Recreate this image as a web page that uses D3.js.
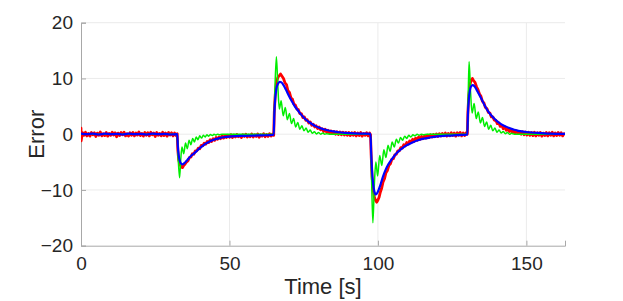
<!DOCTYPE html>
<html><head><meta charset="utf-8">
<script src="https://cdn.jsdelivr.net/npm/d3@7"></script>
<style>
body{margin:0;background:#fff}
svg{display:block}
text{font-family:"Liberation Sans",Arial,Helvetica,sans-serif;fill:#262626}
</style>
</head><body>
<svg id="c" width="623" height="301"></svg>
<script>
const xTicks=[0,50,100,150];
const yTicks=[-20,-10,0,10,20];
const xDomain=[0,163];
const yDomain=[-20,20];
const xLabel="Time [s]";
const yLabel="Error";

// red: noisy measured error
const red=[[0,1.1],[0.05,-1.2],[0.5,0.3],[1,-0.2],[1.5,0.35],[2,-0.3],[2.5,0.15],[3,-0.35],[3.5,0.3],[4,-0.1],[4.5,0.25],[5,-0.4],[5.5,0.2],[6,-0.2],[6.5,0.4],[7,-0.3],[7.5,0.1],[8,-0.25],[8.5,0.3],[9,-0.35],[9.5,0.15],[10,-0.2],[10.5,0.35],[11,-0.15],[11.5,0.25],[12,-0.45],[12.5,0.2],[13,-0.25],[13.5,0.3],[14,-0.1],[14.5,0.35],[15,-0.3],[15.5,0.1],[16,-0.35],[16.5,0.25],[17,-0.2],[17.5,0.3],[18,-0.3],[18.5,0.2],[19,-0.15],[19.5,0.4],[20,-0.25],[20.5,0.15],[21,-0.35],[21.5,0.3],[22,-0.2],[22.5,0.25],[23,-0.3],[23.5,0.35],[24,-0.1],[24.5,0.2],[25,-0.4],[25.5,0.3],[26,-0.2],[26.5,0.15],[27,-0.3],[27.5,0.35],[28,-0.25],[28.5,0.2],[29,-0.35],[29.5,0.3],[30,-0.15],[30.5,0.25],[31,-0.3],[31.5,0.2],[32,-0.25],[32.4,0.1],
[32.6,-2.8],[32.9,-4.6],[33.3,-5.4],[33.8,-5.9],[34.2,-6.0],[34.6,-5.6],[35.0,-5.4],[35.5,-5.0],[36,-4.8],[36.5,-4.2],[37,-4.1],[37.5,-3.5],[38,-3.6],[38.5,-3.0],[39,-3.0],[39.5,-2.5],[40,-2.6],[40.5,-2.0],[41,-2.1],[41.5,-1.6],[42,-1.8],[42.5,-1.3],[43,-1.5],[43.5,-1.0],[44,-1.3],[44.5,-0.8],[45,-1.1],[45.5,-0.6],[46,-0.9],[46.5,-0.5],[47,-0.8],[47.5,-0.3],[48,-0.7],[48.5,-0.3],[49,-0.6],[49.5,-0.2],[50,-0.55],[50.5,-0.1],[51,-0.6],[51.5,-0.15],[52,-0.5],[52.5,-0.05],[53,-0.45],[53.5,-0.2],[54,-0.6],[54.5,-0.1],[55,-0.4],[55.5,0.0],[56,-0.5],[56.5,-0.15],[57,-0.45],[57.5,0.05],[58,-0.5],[58.5,-0.1],[59,-0.4],[59.5,0.05],[60,-0.55],[60.5,-0.1],[61,-0.35],[61.5,0.1],[62,-0.45],[62.5,-0.05],[63,-0.4],[63.5,0.1],[64,-0.35],[64.5,0.05],[64.9,-0.2],
[65.1,4.0],[65.4,7.0],[65.8,9.2],[66.3,10.2],[66.8,10.5],[67.2,10.8],[67.7,10.4],[68.2,10.0],[68.7,9.2],[69.2,8.9],[69.7,7.8],[70.2,7.5],[70.7,6.5],[71.2,6.3],[71.7,5.4],[72.2,5.2],[72.7,4.5],[73.2,4.4],[73.7,3.7],[74.2,3.7],[74.7,3.0],[75.2,3.1],[75.7,2.5],[76.2,2.6],[76.7,2.0],[77.2,2.2],[77.7,1.6],[78.2,1.8],[78.7,1.3],[79.2,1.5],[79.7,1.0],[80.2,1.3],[80.7,0.8],[81.2,1.0],[81.7,0.5],[82.2,0.9],[82.7,0.4],[83.2,0.7],[83.7,0.2],[84.2,0.6],[84.7,0.1],[85.2,0.5],[85.7,0.0],[86.2,0.45],[86.7,-0.05],[87.2,0.4],[87.7,-0.1],[88.2,0.35],[88.7,-0.15],[89.2,0.3],[89.7,-0.2],[90.2,0.3],[90.7,-0.25],[91.2,0.25],[91.7,-0.2],[92.2,0.3],[92.7,-0.3],[93.2,0.2],[93.7,-0.25],[94.2,0.3],[94.7,-0.35],[95.2,0.15],[95.7,-0.2],[96.2,0.25],[96.7,-0.3],[97.2,0.2],[97.5,-0.1],
[97.7,-3.5],[98.0,-7.5],[98.4,-10.0],[98.8,-11.3],[99.2,-11.9],[99.6,-12.2],[100.0,-11.8],[100.4,-11.3],[100.8,-10.4],[101.2,-9.8],[101.7,-8.6],[102.2,-8.0],[102.7,-6.9],[103.2,-6.5],[103.7,-5.6],[104.2,-5.3],[104.7,-4.5],[105.2,-4.4],[105.7,-3.7],[106.2,-3.6],[106.7,-3.0],[107.2,-3.0],[107.7,-2.4],[108.2,-2.5],[108.7,-1.9],[109.2,-2.1],[109.7,-1.5],[110.2,-1.8],[110.7,-1.2],[111.2,-1.5],[111.7,-0.9],[112.2,-1.3],[112.7,-0.7],[113.2,-1.1],[113.7,-0.5],[114.2,-0.9],[114.7,-0.4],[115.2,-0.8],[115.7,-0.3],[116.2,-0.7],[116.7,-0.2],[117.2,-0.6],[117.7,-0.1],[118.2,-0.5],[118.7,-0.05],[119.2,-0.45],[119.7,0.05],[120.2,-0.4],[120.7,0.1],[121.2,-0.35],[121.7,0.15],[122.2,-0.3],[122.7,0.2],[123.2,-0.35],[123.7,0.15],[124.2,-0.3],[124.7,0.25],[125.2,-0.25],[125.7,0.2],[126.2,-0.35],[126.7,0.25],[127.2,-0.2],[127.7,0.3],[128.2,-0.3],[128.7,0.2],[129.2,-0.25],[129.7,0.25],[130.1,0.0],
[130.3,4.0],[130.6,7.0],[131.0,8.9],[131.4,9.7],[131.8,10.0],[132.2,9.6],[132.7,9.3],[133.2,8.5],[133.7,8.0],[134.2,7.2],[134.7,6.8],[135.2,5.9],[135.7,5.6],[136.2,4.8],[136.7,4.6],[137.2,3.9],[137.7,3.8],[138.2,3.1],[138.7,3.1],[139.2,2.5],[139.7,2.5],[140.2,1.9],[140.7,2.0],[141.2,1.4],[141.7,1.6],[142.2,1.0],[142.7,1.3],[143.2,0.7],[143.7,1.0],[144.2,0.5],[144.7,0.8],[145.2,0.3],[145.7,0.7],[146.2,0.2],[146.7,0.6],[147.2,0.1],[147.7,0.5],[148.2,0.0],[148.7,0.45],[149.2,-0.1],[149.7,0.4],[150.2,-0.15],[150.7,0.35],[151.2,-0.2],[151.7,0.3],[152.2,-0.25],[152.7,0.35],[153.2,-0.3],[153.7,0.25],[154.2,-0.2],[154.7,0.3],[155.2,-0.35],[155.7,0.2],[156.2,-0.25],[156.7,0.3],[157.2,-0.3],[157.7,0.25],[158.2,-0.2],[158.7,0.35],[159.2,-0.3],[159.7,0.2],[160.2,-0.25],[160.7,0.3],[161.2,-0.2],[161.7,0.25],[162.2,-0.3],[162.7,0.1]];

// green: oscillating response
const green=[[0,0],[32.4,0],
[32.7,-4],[33.2,-7.8],[33.6,-4.5],[34.0,-2.3],[34.6,-3.5],[35.2,-1.6],[35.8,-2.6],[36.4,-1.1],[37.0,-1.9],[37.6,-0.75],[38.2,-1.4],[38.8,-0.5],[39.4,-1.0],[40.0,-0.3],[40.6,-0.7],[41.2,-0.2],[41.8,-0.5],[42.4,-0.1],[43.0,-0.35],[43.6,-0.05],[44.2,-0.25],[44.8,0],[45.4,-0.15],[46.0,0],[46.6,-0.08],[47.5,0],[64.9,0],
[65.3,8],[65.8,13.9],[66.3,8.5],[66.8,4.5],[67.4,6.0],[68.1,3.3],[68.8,4.8],[69.5,2.6],[70.2,3.7],[70.9,1.9],[71.6,2.8],[72.3,1.3],[73.0,2.1],[73.7,0.9],[74.4,1.5],[75.1,0.6],[75.8,1.1],[76.5,0.35],[77.2,0.75],[77.9,0.15],[78.6,0.45],[79.3,0.05],[80.0,0.3],[80.7,0.0],[81.4,0.2],[82.1,0.0],[82.8,0.1],[84,0],[97.5,0],
[97.9,-9],[98.3,-15.9],[98.8,-9],[99.3,-5.0],[99.9,-7.5],[100.6,-3.8],[101.3,-5.6],[102.0,-2.8],[102.7,-4.2],[103.4,-2.0],[104.1,-3.1],[104.8,-1.4],[105.5,-2.3],[106.2,-0.9],[106.9,-1.6],[107.6,-0.6],[108.3,-1.1],[109.0,-0.35],[109.7,-0.75],[110.4,-0.2],[111.1,-0.5],[111.8,-0.1],[112.5,-0.3],[113.2,0],[113.9,-0.2],[114.6,0],[115.3,-0.1],[116.5,0],[130.1,0],
[130.4,7],[130.7,13.0],[131.2,7.5],[131.7,3.8],[132.4,5.5],[133.1,2.8],[133.8,4.0],[134.5,2.0],[135.2,3.0],[135.9,1.4],[136.6,2.2],[137.3,0.9],[138.0,1.6],[138.7,0.6],[139.4,1.1],[140.1,0.35],[140.8,0.75],[141.5,0.2],[142.2,0.5],[142.9,0.1],[143.6,0.3],[144.3,0],[145.0,0.15],[146,0],[163,0]];

// blue: smooth response
const blue=[[0,0.1],[2,0],[4,0.1],[6,-0.05],[8,0.1],[10,0],[12,0.05],[14,-0.05],[16,0.1],[18,0],[20,0.05],[22,-0.05],[24,0.1],[26,0],[28,0.05],[30,-0.05],[32.4,0],
[32.6,-2.0],[32.9,-3.8],[33.3,-4.8],[33.8,-5.3],[34.2,-5.4],[34.8,-5.2],[35.5,-4.8],[36,-4.5],[37,-3.9],[38,-3.5],[39,-3.0],[40,-2.5],[41,-2.1],[42,-1.7],[43,-1.4],[44,-1.15],[45,-0.95],[46,-0.8],[47,-0.65],[48,-0.55],[50,-0.42],[52,-0.35],[55,-0.3],[58,-0.25],[61,-0.2],[64,-0.15],[64.9,-0.1],
[65.1,3.5],[65.4,6.3],[65.8,8.2],[66.3,9.0],[66.9,9.4],[67.5,9.3],[68.2,8.8],[69,8.0],[70,6.9],[71,5.9],[72,5.0],[73,4.3],[74,3.6],[75,3.0],[76,2.5],[77,2.1],[78,1.75],[79,1.45],[80,1.2],[81,1.0],[82,0.85],[83,0.7],[85,0.5],[87,0.35],[89,0.25],[92,0.15],[95,0.1],[97.5,0.05],
[97.7,-3.0],[98.0,-6.5],[98.4,-9.0],[98.8,-10.3],[99.3,-10.8],[99.9,-10.4],[100.5,-9.6],[101,-8.8],[101.7,-7.6],[102.5,-6.5],[103.5,-5.4],[104.5,-4.6],[105.5,-3.9],[106.5,-3.3],[107.5,-2.8],[108.5,-2.4],[109.5,-2.05],[110.6,-1.75],[112,-1.4],[113.5,-1.1],[115,-0.85],[116.5,-0.7],[118,-0.55],[120,-0.4],[122,-0.3],[124,-0.25],[127,-0.15],[130.1,-0.1],
[130.3,3.4],[130.6,6.2],[131.0,7.9],[131.4,8.6],[131.9,8.8],[132.5,8.6],[133.2,8.0],[134,7.2],[135,6.2],[136,5.1],[137,4.2],[138,3.5],[139,2.9],[140,2.4],[141,2.0],[142,1.65],[143,1.4],[144,1.15],[145,0.95],[146,0.8],[147,0.65],[148,0.55],[150,0.4],[152,0.3],[155,0.2],[158,0.1],[163,0.05]];

const series=[
  {name:"red",data:red,color:"#ff0000",width:2.8,curve:d3.curveLinear},
  {name:"green",data:green,color:"#00ee00",width:1.5,curve:d3.curveMonotoneX},
  {name:"blue",data:blue,color:"#0000ff",width:2.2,curve:d3.curveMonotoneX}
];

const svg=d3.select("#c");
const m={l:81,r:565,t:22.7,b:245.7};
const x=d3.scaleLinear().domain(xDomain).range([m.l,m.r]);
const y=d3.scaleLinear().domain(yDomain).range([m.b,m.t]);

// grid
svg.append("g").selectAll("line").data(xTicks.filter(d=>d!==0)).join("line")
  .attr("x1",d=>x(d)).attr("x2",d=>x(d)).attr("y1",m.t).attr("y2",m.b)
  .attr("stroke","#ebebeb").attr("stroke-width",1);
svg.append("g").selectAll("line").data(yTicks.filter(d=>d!==-20)).join("line")
  .attr("x1",m.l).attr("x2",m.r).attr("y1",d=>y(d)).attr("y2",d=>y(d))
  .attr("stroke","#ebebeb").attr("stroke-width",1);

// axes
const xa=svg.append("g").attr("transform",`translate(0,${m.b})`)
  .call(d3.axisBottom(x).tickValues(xTicks).tickSize(-5).tickPadding(14).tickFormat(d3.format("d")));
const ya=svg.append("g").attr("transform",`translate(${m.l},0)`)
  .call(d3.axisLeft(y).tickValues(yTicks).tickSize(-5).tickPadding(8).tickFormat(d3.format("d")));
[xa,ya].forEach(a=>{
  a.select(".domain").attr("stroke","#a8a8a8").attr("stroke-width",1);
  a.selectAll(".tick line").attr("stroke","#a8a8a8");
  a.selectAll(".tick text").attr("fill","#262626").style("font-size","19px")
   .style("font-family","'Liberation Sans',Arial,sans-serif");
});
xa.selectAll(".tick text").attr("dy","0.71em").attr("y",11);

// lines
const clip=svg.append("defs").append("clipPath").attr("id","cp").append("rect")
  .attr("x",m.l).attr("y",m.t-2).attr("width",m.r-m.l).attr("height",m.b-m.t+2);
svg.append("g").attr("clip-path","url(#cp)").selectAll("path").data(series).join("path")
  .attr("d",d=>d3.line().curve(d.curve).x(p=>x(p[0])).y(p=>y(p[1]))(d.data))
  .attr("fill","none").attr("stroke",d=>d.color)
  .attr("stroke-width",d=>d.width).attr("stroke-linejoin","round").attr("stroke-linecap","round");

// labels
svg.append("text").attr("x",(m.l+m.r)/2).attr("y",294).attr("text-anchor","middle")
  .style("font-size","22px").text(xLabel);
svg.append("text").attr("transform",`translate(44,${(m.t+m.b)/2}) rotate(-90)`)
  .attr("text-anchor","middle").style("font-size","22px").text(yLabel);
</script>
</body></html>
